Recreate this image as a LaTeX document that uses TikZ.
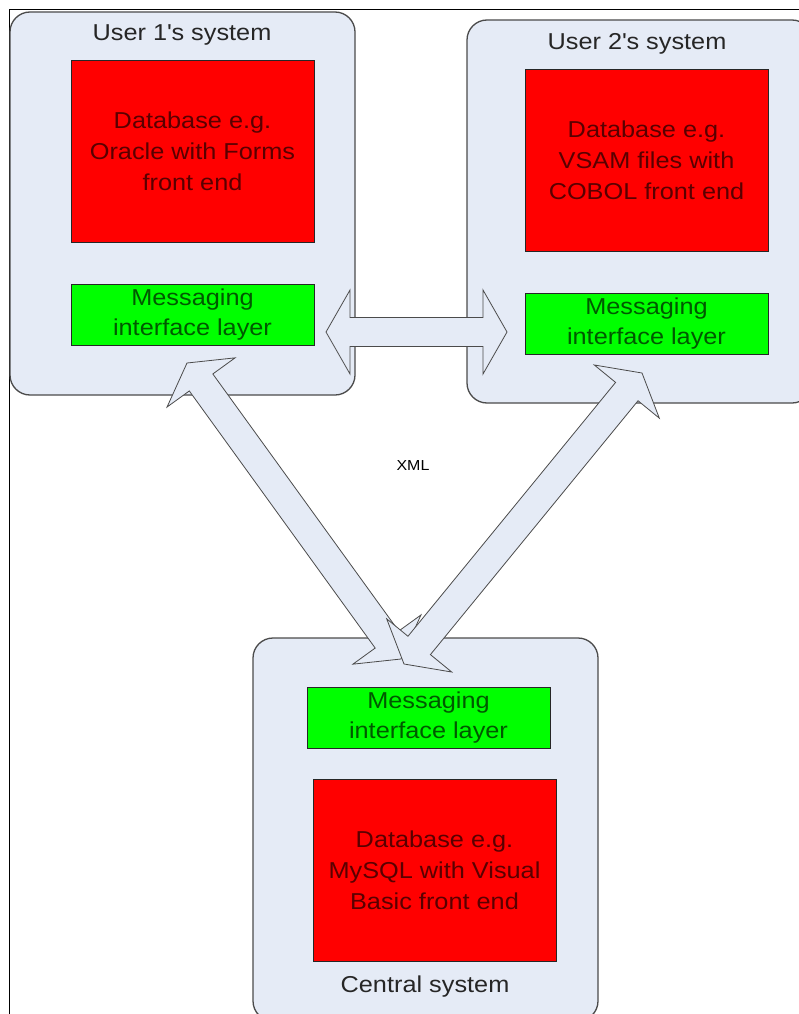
\documentclass[tikz,border=0pt]{standalone}
\usepackage{fontspec}
\setmainfont{Liberation Sans}[FakeStretch=1.1]
\usepackage{tikz}
\usetikzlibrary{shapes, arrows, positioning, calc}
\definecolor{sysfill}{RGB}{229,235,246}
\definecolor{sysline}{RGB}{75,75,75}
\tikzstyle{sys} = [rectangle, draw=sysline, line width=1.3pt, fill=sysfill, rounded corners=20pt, minimum width=345pt, minimum height=383pt]
\tikzstyle{dbox} = [rectangle, draw=black!85, fill=red, text=red!35!black, align=center, minimum width=243pt, minimum height=182pt, font=\fontsize{23}{31}\selectfont]
\tikzstyle{mbox} = [rectangle, draw=black!85, fill=green, text=green!35!black, align=center, minimum width=243pt, minimum height=61pt, font=\fontsize{23}{30}\selectfont]
\tikzstyle{title} = [text=black!85, font=\fontsize{23}{28}\selectfont]
\tikzstyle{fat} = [draw=sysline, fill=sysfill, line width=0.8pt, to path={
    -- ($(\tikztostart)!24pt!(\tikztotarget)!42pt!90:(\tikztotarget)$)
    -- ($(\tikztostart)!24pt!(\tikztotarget)!14.5pt!90:(\tikztotarget)$)
    -- ($(\tikztotarget)!24pt!(\tikztostart)!14.5pt!-90:(\tikztostart)$)
    -- ($(\tikztotarget)!24pt!(\tikztostart)!42pt!-90:(\tikztostart)$)
    -- (\tikztotarget)
    -- ($(\tikztotarget)!24pt!(\tikztostart)!42pt!90:(\tikztostart)$)
    -- ($(\tikztotarget)!24pt!(\tikztostart)!14.5pt!90:(\tikztostart)$)
    -- ($(\tikztostart)!24pt!(\tikztotarget)!14.5pt!-90:(\tikztotarget)$)
    -- ($(\tikztostart)!24pt!(\tikztotarget)!42pt!-90:(\tikztotarget)$)
    -- cycle}]
\begin{document}
\begin{tikzpicture}[x=1pt, y=-1pt]
    \useasboundingbox (0,0) rectangle (799,1014);
    \clip (0,0) rectangle (799,1014);
    \draw[line width=1pt] (9.5,1014) -- (9.5,10) -- (799,10);

    % the three systems
    \node[sys](user1) at (182.5,203.5){};
    \node[sys](user2) at (639.5,211.5){};
    \node[sys](central) at (425.5,829.5){};

    \node[title] (t1) at (182,35){User 1\textquotesingle s system};
    \node[title] (t2) at (637,44){User 2\textquotesingle s system};
    \node[title] (t3) at (425,987){Central system};

    \node[dbox](db1) at (192.5,151){Database e.g.\\Oracle with Forms\\front end};
    \node[mbox, below of=db1, node distance=163.5pt](msg1){Messaging\\interface layer};
    \node[dbox](db2) at (646.5,160){Database e.g.\\VSAM files with\\COBOL front end};
    \node[mbox, below of=db2, node distance=163.5pt](msg2){Messaging\\interface layer};
    \node[mbox](msg3) at (428.5,718){Messaging\\interface layer};
    \node[dbox, below of=msg3, node distance=152pt, xshift=6pt](db3){Database e.g.\\MySQL with Visual\\Basic front end};

    \node[font=\fontsize{14.5}{16}\selectfont] (xml) at (413,466){XML};

    % arrow ends
    \coordinate (h1) at (326,332);
    \coordinate (h2) at (507,332);
    \coordinate (a1) at (187,363);
    \coordinate (a2) at (401,659);
    \coordinate (b1) at (642,373);
    \coordinate (b2) at (404,664);

    \path[fat] (h1) to (h2);
    \path[fat] (a1) to (a2);
    \path[fat] (b1) to (b2);
\end{tikzpicture}
\end{document}
